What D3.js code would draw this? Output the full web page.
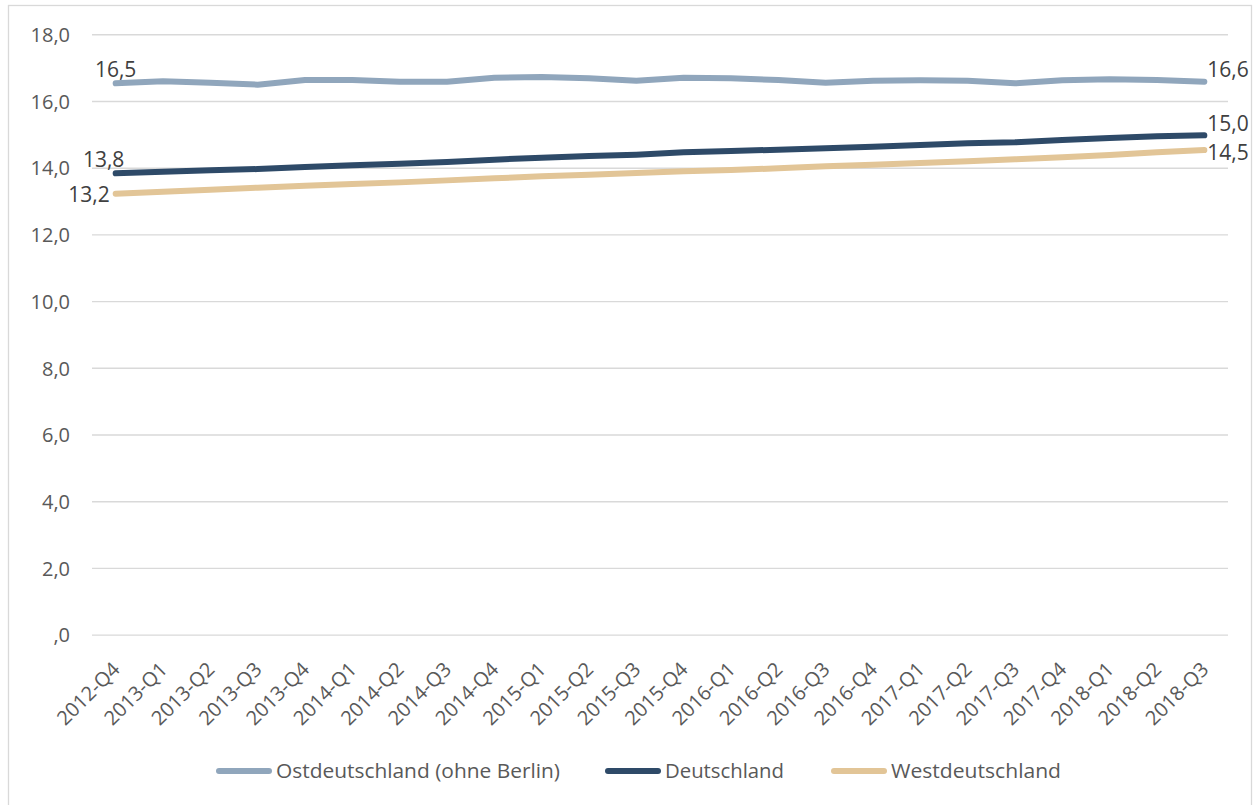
<!DOCTYPE html>
<html>
<head>
<meta charset="utf-8">
<script src="https://cdn.jsdelivr.net/npm/d3@7"></script>
<style>
  html, body { margin: 0; padding: 0; background: #fff; }
  svg { display: block; }
  text { font-family: "Open Sans", "Noto Sans", sans-serif; }
</style>
</head>
<body>
<svg id="chart" width="1258" height="805"></svg>
<script>
const categories = ["2012-Q4","2013-Q1","2013-Q2","2013-Q3","2013-Q4","2014-Q1","2014-Q2","2014-Q3","2014-Q4",
  "2015-Q1","2015-Q2","2015-Q3","2015-Q4","2016-Q1","2016-Q2","2016-Q3","2016-Q4",
  "2017-Q1","2017-Q2","2017-Q3","2017-Q4","2018-Q1","2018-Q2","2018-Q3"];

const ostValues = [16.53,16.59,16.55,16.49,16.63,16.63,16.58,16.58,16.70,16.72,16.68,16.61,
  16.70,16.68,16.63,16.55,16.61,16.62,16.61,16.53,16.62,16.65,16.63,16.58];
const deValues = [13.83,13.88,13.92,13.96,14.02,14.07,14.12,14.17,14.24,14.30,14.35,14.39,
  14.46,14.50,14.54,14.58,14.63,14.68,14.73,14.76,14.83,14.89,14.94,14.97];
const westValues = [13.22,13.28,13.34,13.40,13.46,13.51,13.56,13.62,13.68,13.74,13.79,13.84,
  13.89,13.93,13.98,14.04,14.09,14.14,14.19,14.25,14.31,14.38,14.46,14.53];

const seriesNames = ["Ostdeutschland (ohne Berlin)", "Deutschland", "Westdeutschland"];
const yTickValues = [0,2,4,6,8,10,12,14,16,18];
const yTickLabels = [",0","2,0","4,0","6,0","8,0","10,0","12,0","14,0","16,0","18,0"];
const firstLabels = ["16,5","13,8","13,2"];
const lastLabels = ["16,6","15,0","14,5"];

const colors = ["#90a6bc", "#2e4a68", "#e2c597"];
const seriesValues = [ostValues, deValues, westValues];

const svg = d3.select("#chart");
svg.append("rect").attr("x",0).attr("y",0).attr("width",1258).attr("height",805).attr("fill","#fff");
svg.append("rect").attr("x",8.5).attr("y",5.5).attr("width",1243).attr("height",820)
  .attr("fill","none").attr("stroke","#d9d9d9").attr("stroke-width",1.3);

const plot = {left: 92, right: 1228, top: 34.3, bottom: 634.6};
const x = d3.scalePoint().domain(categories).range([plot.left, plot.right]).padding(0.5);
const y = d3.scaleLinear().domain([0,18]).range([plot.bottom, plot.top]);

// gridlines + y labels
const yAxis = d3.axisLeft(y).tickValues(yTickValues)
  .tickSize(-(plot.right - plot.left))
  .tickFormat((d,i) => yTickLabels[i]);
const gy = svg.append("g").attr("transform", `translate(${plot.left},0)`).call(yAxis);
gy.select(".domain").remove();
gy.selectAll(".tick line").attr("stroke","#d9d9d9").attr("stroke-width",1.4);
gy.selectAll(".tick text").attr("x",-22).attr("dy","0.36em")
  .attr("fill","#595959").style("font-size","20px").style("font-family","'Open Sans', sans-serif");

// x labels
const xAxis = d3.axisBottom(x).tickSize(0).tickFormat(d => d);
const gx = svg.append("g").attr("transform", `translate(0,${plot.bottom})`).call(xAxis);
gx.select(".domain").remove();
gx.selectAll(".tick text")
  .attr("text-anchor","end")
  .attr("transform","translate(5,36) rotate(-45)")
  .attr("x",0).attr("y",0).attr("dy","0")
  .attr("fill","#595959").style("font-size","20px").style("font-family","'Open Sans', sans-serif");

// lines
const line = d3.line().x((d,i) => x(categories[i])).y(d => y(d));
seriesValues.forEach((vals, s) => {
  svg.append("path").datum(vals)
    .attr("d", line)
    .attr("fill","none")
    .attr("stroke", colors[s])
    .attr("stroke-width", 6)
    .attr("stroke-linecap","round")
    .attr("stroke-linejoin","round");
});

// data labels
const labelStyle = sel => sel.attr("fill","#404040").style("font-size","21px")
  .style("font-family","'Open Sans', sans-serif").attr("dy","0.36em");
const firstOffsets = [[0,-14,"middle"],[-12,-14,"middle"],[-6,1,"end"]];
const lastOffsets = [[3,-12,"start"],[3,-12,"start"],[3,2,"start"]];
seriesValues.forEach((vals, s) => {
  const x0 = x(categories[0]), y0 = y(vals[0]);
  svg.append("text").text(firstLabels[s])
    .attr("x", x0 + firstOffsets[s][0]).attr("y", y0 + firstOffsets[s][1])
    .attr("text-anchor", firstOffsets[s][2]).call(labelStyle);
  const n = vals.length - 1;
  const x1 = x(categories[n]), y1 = y(vals[n]);
  svg.append("text").text(lastLabels[s])
    .attr("x", x1 + lastOffsets[s][0]).attr("y", y1 + lastOffsets[s][1])
    .attr("text-anchor", lastOffsets[s][2]).call(labelStyle);
});

// legend
const legendX = [219, 608, 834];
const legendW = [284, 119, 170];
const legendY = 771;
seriesNames.forEach((name, s) => {
  svg.append("line")
    .attr("x1", legendX[s]).attr("x2", legendX[s] + 50)
    .attr("y1", legendY).attr("y2", legendY)
    .attr("stroke", colors[s]).attr("stroke-width", 6).attr("stroke-linecap","round");
  svg.append("text").text(name)
    .attr("x", legendX[s] + 57).attr("y", legendY).attr("dy","0.36em")
    .attr("textLength", legendW[s]).attr("lengthAdjust","spacingAndGlyphs")
    .attr("fill","#595959").style("font-size","20px").style("font-family","'Open Sans', sans-serif");
});
</script>
</body>
</html>
